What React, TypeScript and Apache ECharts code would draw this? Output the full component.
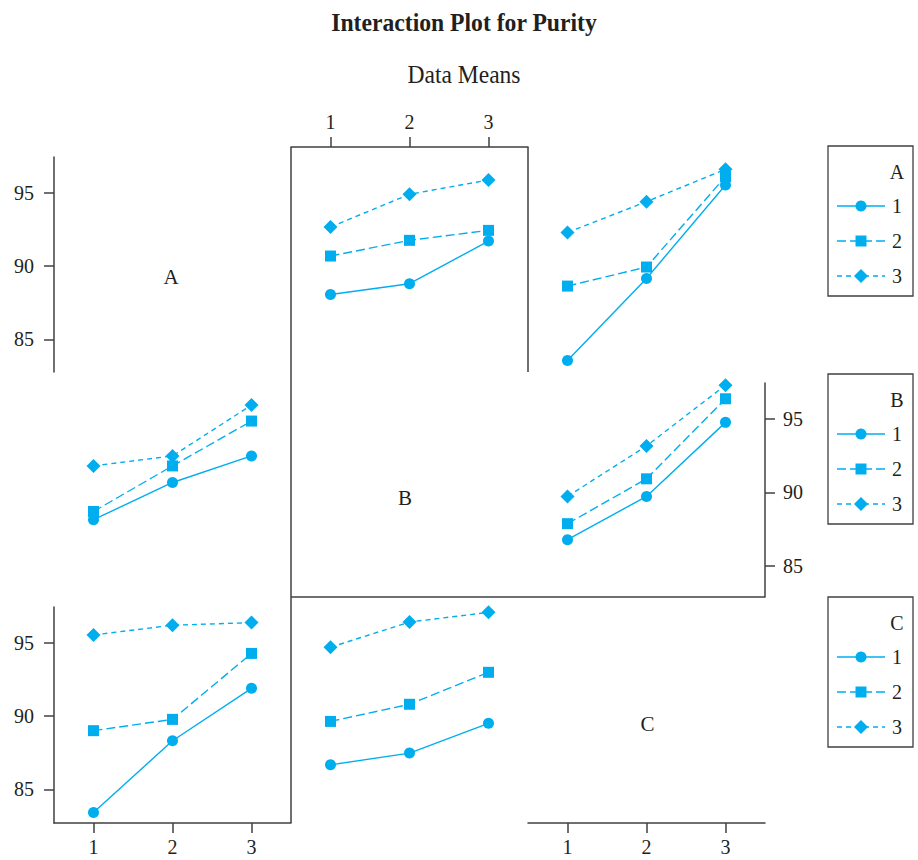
import React, { useEffect, useRef } from "react";
import * as echarts from "echarts";

// ---------- data ----------
const levels = [1, 2, 3];
const xTickValues = [1, 2, 3];
const yTickValues = [85, 90, 95];
const factorNames = ["A", "B", "C"];
const levelLabels = ["1", "2", "3"];
const titleText = "Interaction Plot for Purity";
const subtitleText = "Data Means";

// Row A: lines = levels of A
const aByB_A1 = [88.06, 88.79, 91.7];
const aByB_A2 = [90.68, 91.75, 92.43];
const aByB_A3 = [92.66, 94.89, 95.87];
const aByC_A1 = [83.56, 89.15, 95.53];
const aByC_A2 = [88.63, 89.93, 96.1];
const aByC_A3 = [92.29, 94.39, 96.6];
// Row B: lines = levels of B
const bByA_B1 = [88.13, 90.67, 92.48];
const bByA_B2 = [88.69, 91.8, 94.86];
const bByA_B3 = [91.8, 92.48, 95.95];
const bByC_B1 = [86.77, 89.72, 94.77];
const bByC_B2 = [87.86, 90.92, 96.38];
const bByC_B3 = [89.72, 93.16, 97.31];
// Row C: lines = levels of C
const cByA_C1 = [83.42, 88.31, 91.89];
const cByA_C2 = [89.0, 89.77, 94.27];
const cByA_C3 = [95.53, 96.19, 96.37];
const cByB_C1 = [86.67, 87.47, 89.5];
const cByB_C2 = [89.63, 90.8, 92.98];
const cByB_C3 = [94.69, 96.41, 97.07];

// ---------- styles / layout ----------
const FONT = "Liberation Serif";
const TXT = "#231f20";
const AX = "#404040";
const CYAN = "#00AEEF";
const K = 14.66; // px per unit on y
const rowY95 = [192.7, 419, 642.7];
const colLeft = [54, 291, 528];
const colW = 237;
const symbols = ["circle", "rect", "diamond"];
const symbolSizes = [11, 11, 14];
const dashes: any[] = ["solid", [9, 4], [5, 4]];

type Panel = {
  row: number;
  col: number;
  top: number;
  bottom: number;
  lines: number[][] | null;
  xPos?: "top" | "bottom";
  yPos?: "left" | "right";
};

const panels: Panel[] = [
  { row: 0, col: 0, top: 157, bottom: 372, lines: null, yPos: "left" },
  { row: 0, col: 1, top: 147, bottom: 372, lines: [aByB_A1, aByB_A2, aByB_A3], xPos: "top" },
  { row: 0, col: 2, top: 147, bottom: 372, lines: [aByC_A1, aByC_A2, aByC_A3] },
  { row: 1, col: 0, top: 372, bottom: 597, lines: [bByA_B1, bByA_B2, bByA_B3] },
  { row: 1, col: 2, top: 383, bottom: 597, lines: [bByC_B1, bByC_B2, bByC_B3], yPos: "right" },
  { row: 2, col: 0, top: 607, bottom: 823, lines: [cByA_C1, cByA_C2, cByA_C3], yPos: "left", xPos: "bottom" },
  { row: 2, col: 1, top: 597, bottom: 823, lines: [cByB_C1, cByB_C2, cByB_C3] },
  { row: 2, col: 2, top: 597, bottom: 823, lines: null, xPos: "bottom" },
];

const labelStyle = { fontFamily: FONT, fontSize: 20, color: TXT };

function buildOption() {
  const grid: any[] = [];
  const xAxis: any[] = [];
  const yAxis: any[] = [];
  const series: any[] = [];

  panels.forEach((p, i) => {
    const y95 = rowY95[p.row];
    grid.push({
      left: colLeft[p.col],
      top: p.top,
      width: colW,
      height: p.bottom - p.top,
      outerBoundsMode: "none",
      containLabel: false,
    });
    xAxis.push({
      gridIndex: i,
      type: "value",
      min: 0.5,
      max: 3.5,
      show: !!p.xPos,
      position: p.xPos || "bottom",
      axisLine: { show: true, onZero: false, lineStyle: { color: AX, width: 1.5 } },
      axisTick: { show: true, inside: false, length: 10, customValues: xTickValues, lineStyle: { color: AX, width: 1.5 } },
      axisLabel: { show: true, customValues: xTickValues, margin: p.xPos === "top" ? 15 : 14, ...labelStyle, formatter: (v: number) => String(v) },
      splitLine: { show: false },
    });
    yAxis.push({
      gridIndex: i,
      type: "value",
      min: 95 - (p.bottom - y95) / K,
      max: 95 + (y95 - p.top) / K,
      show: !!p.yPos,
      position: p.yPos || "left",
      axisLine: { show: true, onZero: false, lineStyle: { color: AX, width: 1.5 } },
      axisTick: { show: true, inside: false, length: 10, customValues: yTickValues, lineStyle: { color: AX, width: 1.5 } },
      axisLabel: { show: true, customValues: yTickValues, margin: p.yPos === "right" ? 18 : 20, ...labelStyle, formatter: (v: number) => String(v) },
      splitLine: { show: false },
    });
    if (p.lines) {
      p.lines.forEach((arr, li) => {
        series.push({
          type: "line",
          name: `${factorNames[p.row]}=${levelLabels[li]}`,
          xAxisIndex: i,
          yAxisIndex: i,
          data: levels.map((x, k) => [x, arr[k]]),
          symbol: symbols[li],
          symbolSize: symbolSizes[li],
          showSymbol: true,
          clip: false,
          silent: true,
          z: 3 + li,
          lineStyle: { color: CYAN, width: 1.4, type: dashes[li] },
          itemStyle: { color: CYAN },
        });
      });
    }
  });

  const graphic: any[] = [];
  const line = (x1: number, y1: number, x2: number, y2: number, w = 1.5) => ({
    type: "line",
    shape: { x1, y1, x2, y2 },
    style: { stroke: AX, lineWidth: w },
    silent: true,
  });
  const text = (x: number, y: number, t: string, size: number, weight = "normal", scaleX = 1) => ({
    type: "text",
    x,
    y,
    scaleX,
    silent: true,
    style: {
      text: t,
      fontFamily: FONT,
      fontSize: size,
      fontWeight: weight,
      fill: TXT,
      textAlign: "center",
      textVerticalAlign: "middle",
      align: "center",
      verticalAlign: "middle",
    },
  });

  // frame lines
  graphic.push(line(291, 147, 291, 823));
  graphic.push(line(528, 147, 528, 372));
  graphic.push(line(291, 597, 765, 597));

  // titles
  graphic.push(text(464, 22.5, titleText, 26, "bold", 0.91));
  graphic.push(text(464, 74.5, subtitleText, 26, "normal", 0.905));

  // diagonal labels
  graphic.push(text(171, 277, factorNames[0], 21));
  graphic.push(text(405, 498, factorNames[1], 21));
  graphic.push(text(647.5, 723.5, factorNames[2], 21));

  // legends
  const legendTops = [146, 374, 597];
  legendTops.forEach((top, r) => {
    graphic.push({
      type: "rect",
      shape: { x: 828, y: top, width: 85, height: 150 },
      style: { fill: "none", stroke: AX, lineWidth: 1.3 },
      silent: true,
    });
    graphic.push(text(897, top + 26, factorNames[r], 20));
    [60, 95, 130].forEach((dy, li) => {
      const y = top + dy;
      graphic.push({
        type: "line",
        shape: { x1: 837, y1: y, x2: 885, y2: y },
        style: { stroke: CYAN, lineWidth: 1.4, lineDash: li === 0 ? null : dashes[li] },
        silent: true,
      });
      if (li === 0) {
        graphic.push({ type: "circle", shape: { cx: 861, cy: y, r: 5.5 }, style: { fill: CYAN }, silent: true });
      } else if (li === 1) {
        graphic.push({ type: "rect", shape: { x: 855.5, y: y - 5.5, width: 11, height: 11 }, style: { fill: CYAN }, silent: true });
      } else {
        graphic.push({
          type: "polygon",
          shape: { points: [[861, y - 7], [868, y], [861, y + 7], [854, y]] },
          style: { fill: CYAN },
          silent: true,
        });
      }
      graphic.push(text(897, y, levelLabels[li], 20));
    });
  });

  return {
    animation: false,
    backgroundColor: "#ffffff",
    textStyle: { fontFamily: FONT },
    grid,
    xAxis,
    yAxis,
    series,
    graphic,
  };
}

export default function App() {
  const ref = useRef<HTMLDivElement>(null);
  useEffect(() => {
    if (!ref.current) return;
    const chart = echarts.init(ref.current, null, { renderer: "svg" });
    chart.setOption(buildOption() as any);
    return () => chart.dispose();
  }, []);
  return (
    <div
      ref={ref}
      style={{ position: "absolute", left: 0, top: 0, width: 918, height: 860, background: "#fff" }}
    />
  );
}
